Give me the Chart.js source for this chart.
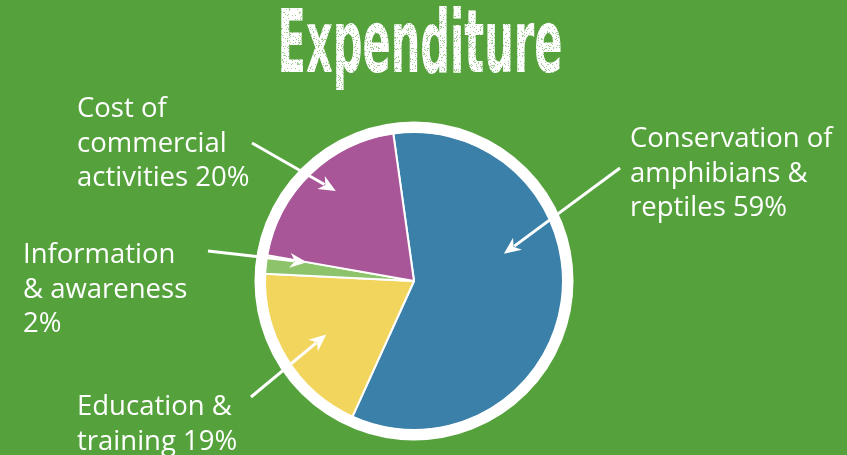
<!DOCTYPE html>
<html><head><meta charset="utf-8">
<script src="https://cdn.jsdelivr.net/npm/chart.js@4/dist/chart.umd.min.js"></script>
<style>
html,body{margin:0;padding:0;background:#55a23d;overflow:hidden}
#wrap{width:847px;height:455px;position:relative}
</style>
</head><body>
<div id="wrap"><canvas id="c"></canvas></div>
<script>
// ---- data ----
const titleText = "Expenditure";
const categories = ["Conservation of amphibians & reptiles", "Education & training", "Information & awareness", "Cost of commercial activities"];
const values = [59, 19, 2, 20];
const labelLines = [
  ["Conservation of", "amphibians &", "reptiles 59%"],
  ["Education &", "training 19%"],
  ["Information", "& awareness", "2%"],
  ["Cost of", "commercial", "activities 20%"]
];
const sliceColors = ["#3a80a9", "#f2d55d", "#8dc46b", "#a85698"];

// ---- layout for annotations (label text and arrow tails) ----
const labelLayout = [
  {x: 630, y: 147, tail: [620, 168], ang: -25, frac: 0.63},
  {x: 77,  y: 415, tail: [251, 397], ang: 0,   frac: 0.69},
  {x: 23,  y: 263, tail: [208, 251], ang: 3.5, frac: 0.73},
  {x: 77,  y: 117, tail: [252, 143], ang: 3,   frac: 0.80}
];
const BG = "#55a23d";

const bgPlugin = {
  id: 'bg',
  beforeDraw(chart) {
    const ctx = chart.ctx;
    ctx.save();
    ctx.fillStyle = BG;
    ctx.fillRect(0, 0, chart.width, chart.height);
    ctx.restore();
  }
};

function arrow(ctx, x1, y1, x2, y2) {
  const a = Math.atan2(y2 - y1, x2 - x1);
  const L = 17, W = 7.5;
  const bx = x2 - L * Math.cos(a), by = y2 - L * Math.sin(a);
  ctx.beginPath();
  ctx.moveTo(x1, y1);
  ctx.lineTo(x2 - (L - 4) * Math.cos(a), y2 - (L - 4) * Math.sin(a));
  ctx.stroke();
  ctx.beginPath();
  ctx.moveTo(x2, y2);
  ctx.lineTo(bx + W * Math.sin(a), by - W * Math.cos(a));
  ctx.lineTo(x2 - (L - 5) * Math.cos(a), y2 - (L - 5) * Math.sin(a));
  ctx.lineTo(bx - W * Math.sin(a), by + W * Math.cos(a));
  ctx.closePath();
  ctx.fill();
}

function drawTitle(ctx) {
  // grunge-style title: text drawn on an offscreen canvas, then speckled
  const off = document.createElement('canvas');
  off.width = 847; off.height = 110;
  const o = off.getContext('2d');
  o.fillStyle = "#ffffff";
  o.font = "bold 88px 'DejaVu Sans Condensed'";
  const w = o.measureText(titleText).width;
  o.save();
  o.translate(420, 72);
  o.scale(285 / w, 1);
  o.textAlign = "center";
  o.fillText(titleText, 0, 0);
  o.restore();
  // deterministic speckle pattern
  o.globalCompositeOperation = "destination-out";
  o.fillStyle = "rgba(0,0,0,0.55)";
  for (let y = 0; y < 100; y++) {
    for (let x = 270; x < 575; x++) {
      const h = Math.sin(x * 12.9898 + y * 78.233) * 43758.5453;
      const f = h - Math.floor(h);
      if (f < 0.12) o.fillRect(x, y, 1, 1);
    }
  }
  ctx.drawImage(off, 0, 0);
}

const decoPlugin = {
  id: 'deco',
  afterDatasetsDraw(chart) {
    const ctx = chart.ctx;
    const meta = chart.getDatasetMeta(0);
    const arc0 = meta.data[0];
    const cx = arc0.x, cy = arc0.y, R = arc0.outerRadius;
    ctx.save();
    // white outer ring
    ctx.strokeStyle = "#ffffff";
    ctx.lineWidth = 11;
    ctx.beginPath();
    ctx.arc(cx, cy, R + 5, 0, Math.PI * 2);
    ctx.stroke();

    // labels + arrows
    ctx.fillStyle = "#ffffff";
    ctx.strokeStyle = "#ffffff";
    ctx.lineWidth = 3;
    ctx.lineCap = "butt";
    ctx.font = "27.5px 'Open Sans'";
    ctx.textBaseline = "alphabetic";
    ctx.textAlign = "left";
    meta.data.forEach((el, i) => {
      const lay = labelLayout[i];
      labelLines[i].forEach((t, k) => ctx.fillText(t, lay.x, lay.y + k * 34.5));
      const mid = (el.startAngle + el.endAngle) / 2 + lay.ang * Math.PI / 180;
      const tx = cx + Math.cos(mid) * R * lay.frac;
      const ty = cy + Math.sin(mid) * R * lay.frac;
      arrow(ctx, lay.tail[0], lay.tail[1], tx, ty);
    });
    ctx.restore();

    drawTitle(ctx);
  }
};

new Chart(document.getElementById('c'), {
  type: 'pie',
  data: {
    labels: categories,
    datasets: [{
      data: values,
      backgroundColor: sliceColors,
      borderColor: "#ffffff",
      borderWidth: 2,
      hoverOffset: 0
    }]
  },
  options: {
    responsive: true,
    maintainAspectRatio: false,
    animation: false,
    rotation: -8,
    layout: {padding: {left: 264, right: 283, top: 131, bottom: 24}},
    plugins: {legend: {display: false}, tooltip: {enabled: false}, title: {display: false}}
  },
  plugins: [bgPlugin, decoPlugin]
});
</script>
</body></html>
